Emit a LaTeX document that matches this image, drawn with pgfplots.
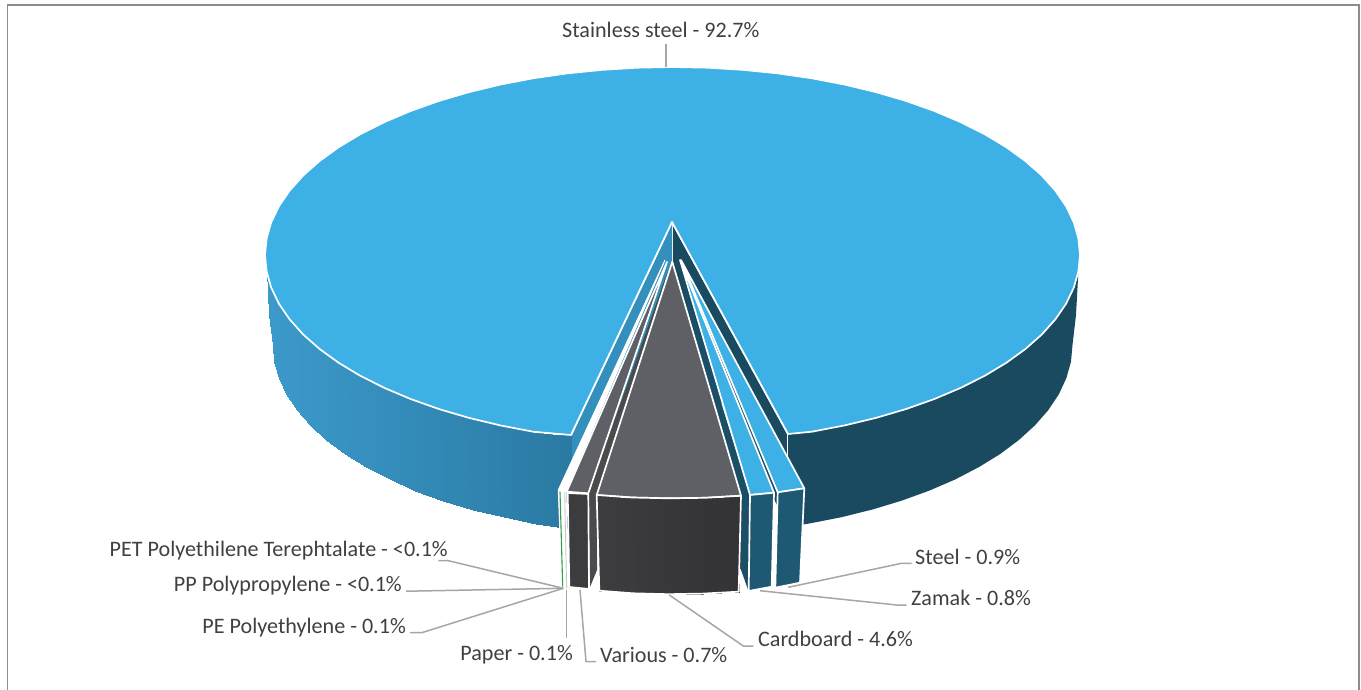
\documentclass[border=0pt]{standalone}
\usepackage{fontspec}
\setmainfont{Carlito}
\usepackage{pgfplots}
\pgfplotsset{compat=1.18}

\definecolor{topblue}{HTML}{3DB0E5}
\definecolor{wallright}{HTML}{1A4A5F}
\definecolor{innerleft}{HTML}{338FBC}
\definecolor{sliceside}{HTML}{1F5872}
\definecolor{slicedark}{HTML}{1B4F67}
\definecolor{greytop}{HTML}{5F6065}
\definecolor{greyinner}{HTML}{4B4B4E}
\definecolor{greyside}{HTML}{3C3C3F}
\definecolor{leader}{HTML}{A6A6A6}
\definecolor{labeltext}{HTML}{404040}
\definecolor{sliver}{HTML}{2E9E4F}

\pgfplotsset{
  colormap={wallblue}{rgb255=(42,122,163) rgb255=(60,154,203)},
  colormap={walldark}{rgb255=(52,52,54) rgb255=(61,61,64)},
  face/.style={line width=1.7pt,draw=white,line join=round},
  lead/.style={line width=1.5pt,draw=leader,line join=round},
}
\tikzset{lbl/.style={inner sep=0pt,text=labeltext,font=\fontsize{22.1}{25}\selectfont}}

\begin{document}
\begin{tikzpicture}
\path[use as bounding box] (0,0) rectangle (1361pt,690pt);
\begin{axis}[
  scale only axis,width=1361pt,height=690pt,
  xmin=0,xmax=1361,ymin=0,ymax=690,
  y dir=reverse,axis lines=none,
  point meta min=0,point meta max=1,
]

% frame
\addplot[draw=black!45,line width=1.5pt] coordinates {(7.3,690) (7.3,4.8) (1358.8,4.8) (1358.8,690)};

% inner faces of the big slice
\addplot[fill=innerleft,face] coordinates {(672,222) (571,435) (571,528) (672,315)} -- cycle;
\addplot[fill=wallright,face] coordinates {(672,222) (788,434) (788,527) (672,315)} -- cycle;
\addplot[fill=innerleft,draw=none] coordinates {(672,223) (672,262) (640,300)} -- cycle;

% outer wall, left
\addplot[surf,shader=interp,colormap name=wallblue,mesh/rows=2,point meta=explicit]
table[meta=c] {
x y c
266.6 271.4 1
271.2 287.6 .983
278.9 303.7 .958
289.6 319.3 .923
303.2 334.5 .878
319.6 349 .824
338.7 362.8 .762
360.3 375.8 .691
384.4 387.9 .612
410.6 399 .526
438.8 409 .433
468.7 417.8 .335
500.3 425.4 .232
533.1 431.7 .124
552 433.8 .062
571 435 0
571 435 0
571 435 0
266.6 271.4 1
269 315 .99
272.5 345 .979
274 361.6 .974
278.6 378 .959
286.1 394.2 .934
296.6 410 .9
310 425.3 .856
326.1 440 .803
344.8 454 .742
366.1 467.1 .672
389.7 479.4 .594
415.4 490.5 .51
443.1 500.6 .419
472.5 509.5 .323
503.5 517.2 .221
535.7 523.5 .116
571 528.8 0
};

% outer wall, right
\addplot[fill=wallright,draw=none] coordinates {
(788,434) (811.9,431.7) (844.7,425.4) (876.3,417.8) (906.2,409) (934.4,399) (960.6,387.9)
(984.7,375.8) (1006.3,362.8) (1025.4,349) (1041.8,334.5) (1055.4,319.3) (1066.1,303.7)
(1073.8,287.6) (1078.4,271.4) (1076,315) (1072.5,345) (1071,361.6) (1066.4,378) (1058.9,394.2)
(1048.4,410) (1035,425.3) (1018.9,440) (1000.2,454) (978.9,467.1) (955.3,479.4) (929.6,490.5)
(901.9,500.6) (872.5,509.5) (841.5,517.2) (809.3,523.5) (788,527)
} -- cycle;

% top of the big slice
\addplot[fill=topblue,face] coordinates {
(571,435) (533.1,431.7) (500.3,425.4) (468.7,417.8) (438.8,409) (410.6,399) (384.4,387.9)
(360.3,375.8) (338.7,362.8) (319.6,349) (303.2,334.5) (289.6,319.3) (278.9,303.7) (271.2,287.6)
(266.6,271.4) (265,255) (266.6,238.6) (271.2,222.4) (278.9,206.3) (289.6,190.7) (303.2,175.5)
(319.6,161) (338.7,147.2) (360.3,134.2) (384.4,122.1) (410.6,111) (438.8,101) (468.7,92.2)
(500.3,84.6) (533.1,78.3) (567,73.4) (601.7,69.9) (637,67.7) (672.5,67) (708,67.7) (743.3,69.9)
(778,73.4) (811.9,78.3) (844.7,84.6) (876.3,92.2) (906.2,101) (934.4,111) (960.6,122.1)
(984.7,134.2) (1006.3,147.2) (1025.4,161) (1041.8,175.5) (1055.4,190.7) (1066.1,206.3)
(1073.8,222.4) (1078.4,238.6) (1080,255) (1078.4,271.4) (1073.8,287.6) (1066.1,303.7)
(1055.4,319.3) (1041.8,334.5) (1025.4,349) (1006.3,362.8) (984.7,375.8) (960.6,387.9)
(934.4,399) (906.2,409) (876.3,417.8) (844.7,425.4) (811.9,431.7) (788,434) (672,222)
} -- cycle;

% PET, PP, PE and paper slivers
\addplot[fill=white,draw=white,line width=1pt] coordinates {(665,260) (558.3,490) (562,588) (568,588) (566,491)} -- cycle;
\addplot[draw=sliver,line width=1.1pt] coordinates {(560,491.7) (562.7,586.7)};
\addplot[draw=black!22,line width=.9pt] coordinates {(564.7,491.7) (566.6,588)};

% various
\addplot[fill=greyinner,draw=none] coordinates {(671,262) (588.3,493.3) (590,587) (597,570) (597,495)} -- cycle;
\addplot[fill=greytop,face] coordinates {(667,262) (566.7,491.7) (588.3,493.3)} -- cycle;
\addplot[fill=greyside,face] coordinates {(567.7,493) (588.3,494) (589,589) (569.3,587)} -- cycle;

% zamak inner face
\addplot[fill=slicedark,draw=none] coordinates {(676,258) (750,495) (748.5,591) (740,567) (735,495)} -- cycle;

% cardboard
\addplot[fill=greytop,face] coordinates {(672.3,261.7) (596.7,495) (632,497.5) (668,498.3) (705,497.8) (741,495.7)} -- cycle;
\addplot[surf,shader=interp,colormap name=walldark,mesh/rows=2,point meta=explicit]
table[meta=c] {
x y c
596.7 495 1
632 497.5 .75
668 498.3 .4
705 497.8 .15
741 495.7 0
599.3 590.7 1
633 593.3 .75
668.3 594.2 .4
703 593.6 .15
738.7 591.7 0
};
\addplot[face] coordinates {(596.7,495) (632,497.5) (668,498.3) (705,497.8) (741,495.7) (738.7,591.7) (703,593.6) (668.3,594.2) (633,593.3) (599.3,590.7) (596.7,495)};

% zamak
\addplot[fill=topblue,face] coordinates {(680,260) (750,495) (774,492.7)} -- cycle;
\addplot[fill=sliceside,face] coordinates {(750,495) (774,492.7) (771.7,586.7) (748.7,591)} -- cycle;

% steel
\addplot[fill=topblue,face] coordinates {(681,260) (777.7,492.3) (804.3,488.3)} -- cycle;
\addplot[fill=sliceside,face] coordinates {(777.7,492.3) (804.3,488.3) (800,582.7) (775.3,587.7)} -- cycle;

% leader lines
\addplot[lead] coordinates {(666,44) (666,67)};
\addplot[lead] coordinates {(438.3,560.7) (448.3,560.7) (563.3,588.3)};
\addplot[lead] coordinates {(406,591) (418,591) (563.3,588.3)};
\addplot[lead] coordinates {(410,632.7) (421.7,632.7) (563.3,588.3)};
\addplot[lead] coordinates {(566.7,590) (566.7,638)};
\addplot[lead] coordinates {(580,590) (586,661.7) (596,661.7)};
\addplot[lead] coordinates {(669.3,595) (743.3,646) (753.3,646)};
\addplot[lead] coordinates {(760,590.7) (896.7,605) (906.7,605)};
\addplot[lead] coordinates {(788.3,587.3) (901.7,563.3) (911.7,563.3)};

% labels
\node[lbl,anchor=base west] at (axis cs:562,38) {Stainless steel - 92.7\%};
\node[lbl,anchor=base east] at (axis cs:448,556) {PET Polyethilene Terephtalate - <0.1\%};
\node[lbl,anchor=base east] at (axis cs:402,591) {PP Polypropylene - <0.1\%};
\node[lbl,anchor=base east] at (axis cs:406,633) {PE Polyethylene - 0.1\%};
\node[lbl,anchor=base east] at (axis cs:573,660) {Paper - 0.1\%};
\node[lbl,anchor=base west] at (axis cs:600,662) {Various - 0.7\%};
\node[lbl,anchor=base west] at (axis cs:758,646) {Cardboard - 4.6\%};
\node[lbl,anchor=base west] at (axis cs:911,605) {Zamak - 0.8\%};
\node[lbl,anchor=base west] at (axis cs:915,564) {Steel - 0.9\%};
\end{axis}
\end{tikzpicture}
\end{document}
